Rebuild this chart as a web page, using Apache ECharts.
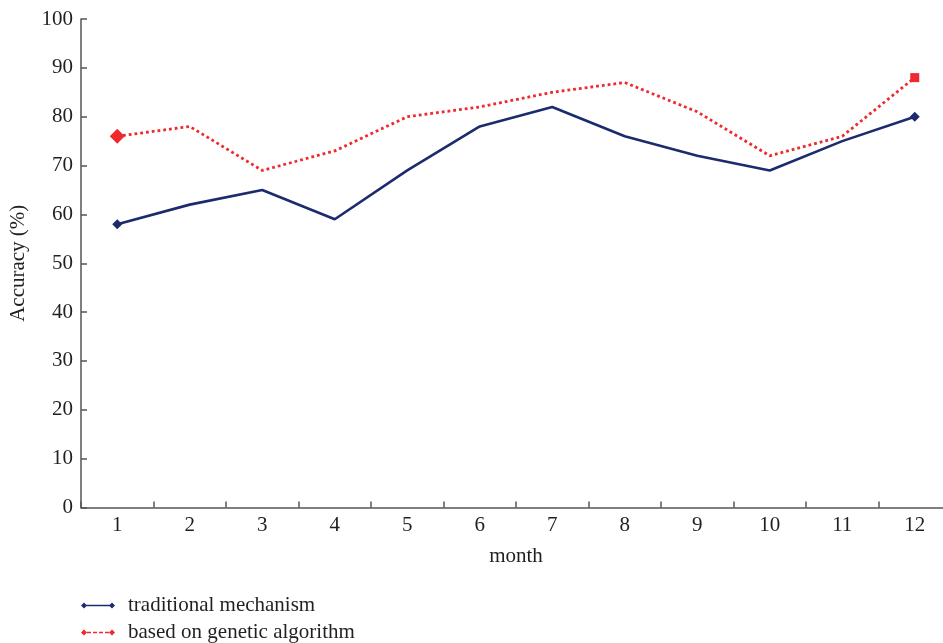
<!DOCTYPE html>
<html>
<head>
<meta charset="utf-8">
<script src="https://cdn.jsdelivr.net/npm/echarts@6/dist/echarts.min.js"></script>
<style>html,body{margin:0;padding:0;background:#fff}#c{width:943px;height:643px}</style>
</head>
<body>
<div id="c"></div>
<script>
const months = ['1','2','3','4','5','6','7','8','9','10','11','12'];
const traditional = [58, 62, 65, 59, 69, 78, 82, 76, 72, 69, 75, 80];
const genetic = [76, 78, 69, 73, 80, 82, 85, 87, 81, 72, 76, 88];
const yTicks = [0, 10, 20, 30, 40, 50, 60, 70, 80, 90, 100];
const seriesNames = ['traditional mechanism', 'based on genetic algorithm'];

const BLUE = '#1c2b6e';
const RED = '#ee2a2e';
const FONT = 'Liberation Serif';
const TXT = '#231f20';
const FS = 21;

function endMarks(vals, firstSym, firstSize, lastSym, lastSize) {
  return vals.map((v, i) => {
    if (i === 0) return { value: v, symbol: firstSym, symbolSize: firstSize };
    if (i === vals.length - 1) return { value: v, symbol: lastSym, symbolSize: lastSize };
    return { value: v, symbol: 'none' };
  });
}

const blueIcon = 'path://M0 3L3 0L6 3L3 6Z M3 2.3H31V3.7H3Z M28 3L31 0L34 3L31 6Z';
const redIcon = 'path://M0 3L3 0L6 3L3 6Z M6 2.2H10V3.8H6Z M12 2.2H16V3.8H12Z M18 2.2H22V3.8H18Z M24 2.2H28V3.8H24Z M28 3L31 0L34 3L31 6Z';

function legendItem(name, icon, top) {
  return {
    orient: 'vertical',
    left: 81,
    top: top,
    padding: 0,
    itemWidth: 34,
    itemHeight: 6,
    textStyle: { fontFamily: FONT, fontSize: FS, color: TXT, padding: [0, 0, 0, 8] },
    data: [{ name: name, icon: icon }]
  };
}

const chart = echarts.init(document.getElementById('c'), null, { renderer: 'canvas' });
chart.setOption({
  animation: false,
  backgroundColor: '#fff',
  textStyle: { fontFamily: FONT, color: TXT },
  grid: { left: 81, top: 19, right: -8, bottom: 135.5, containLabel: false, outerBoundsMode: 'none' },
  legend: [
    legendItem(seriesNames[0], blueIcon, 595),
    legendItem(seriesNames[1], redIcon, 622)
  ],
  xAxis: {
    type: 'category',
    data: months,
    boundaryGap: true,
    name: 'month',
    nameLocation: 'middle',
    nameGap: 38,
    nameTextStyle: { fontFamily: FONT, fontSize: FS, color: TXT },
    axisLine: { lineStyle: { color: '#555', width: 1.5 } },
    axisTick: { show: true, inside: true, length: 6, lineStyle: { color: '#555', width: 1.5 } },
    axisLabel: { fontFamily: FONT, fontSize: FS, color: TXT, margin: 7 },
    splitLine: { show: false }
  },
  yAxis: {
    type: 'value',
    min: yTicks[0],
    max: yTicks[yTicks.length - 1],
    interval: yTicks[1] - yTicks[0],
    name: 'Accuracy (%)',
    nameLocation: 'middle',
    nameGap: 52,
    nameRotate: 90,
    nameTextStyle: { fontFamily: FONT, fontSize: FS, color: TXT },
    axisLine: { show: true, lineStyle: { color: '#555', width: 1.5 } },
    axisTick: { show: true, inside: true, length: 6, lineStyle: { color: '#555', width: 1.5 } },
    axisLabel: { fontFamily: FONT, fontSize: FS, color: TXT, margin: 8 },
    splitLine: { show: false }
  },
  series: [
    {
      name: seriesNames[0],
      type: 'line',
      data: endMarks(traditional, 'diamond', 10, 'diamond', 10),
      showAllSymbol: true,
      color: BLUE,
      lineStyle: { color: BLUE, width: 2.6 },
      itemStyle: { color: BLUE },
      z: 2
    },
    {
      name: seriesNames[1],
      type: 'line',
      data: endMarks(genetic, 'diamond', 15, 'rect', 9),
      showAllSymbol: true,
      color: RED,
      lineStyle: { color: RED, width: 2.8, type: [2.8, 3] },
      itemStyle: { color: RED },
      z: 3
    }
  ]
});
</script>
</body>
</html>
